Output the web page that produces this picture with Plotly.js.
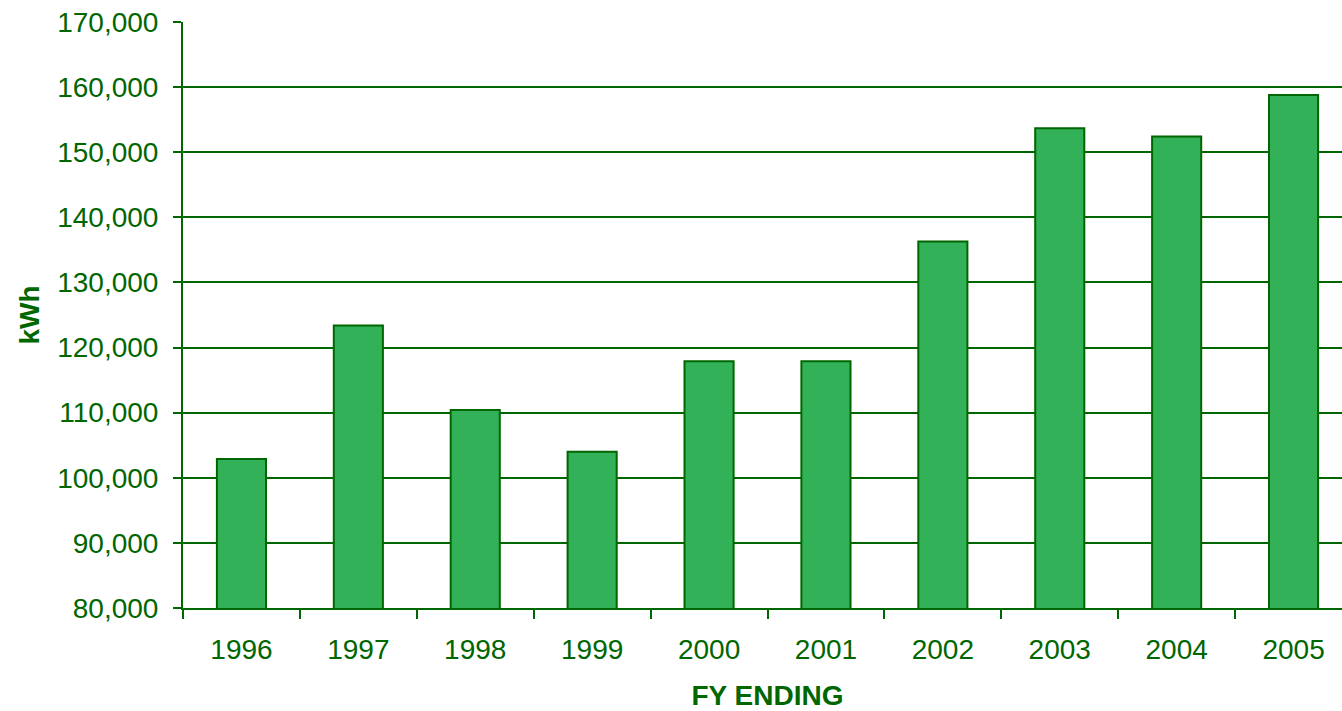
<!DOCTYPE html>
<html>
<head>
<meta charset="utf-8">
<script src="https://cdn.plot.ly/plotly-3.0.1.min.js"></script>
<style>
html,body{margin:0;padding:0;background:#fff;overflow:hidden;}
#chart{width:1352px;height:711px;}
</style>
</head>
<body>
<div id="chart"></div>
<script>
const years = ['1996','1997','1998','1999','2000','2001','2002','2003','2004','2005'];
const kwh = [102900, 123400, 110400, 104000, 117900, 117900, 136300, 153700, 152400, 158800];
const yTicks = [80000, 90000, 100000, 110000, 120000, 130000, 140000, 150000, 160000, 170000];

const dark = '#006600';
const trace = {
  type: 'bar',
  x: years,
  y: kwh,
  marker: {color: '#33B159', line: {color: dark, width: 2}},
  hoverinfo: 'x+y'
};

const layout = {
  width: 1352,
  height: 711,
  margin: {l: 183, r: 0, t: 22, b: 103},
  paper_bgcolor: '#ffffff',
  plot_bgcolor: '#ffffff',
  bargap: 0.58,
  showlegend: false,
  font: {family: 'Liberation Sans, Arial, sans-serif', color: dark, size: 28},
  xaxis: {
    type: 'category',
    showline: true, linecolor: dark, linewidth: 2,
    ticks: 'outside', ticklen: 9, tickwidth: 2, tickcolor: dark,
    tickson: 'boundaries',
    showgrid: false,
    ticklabelstandoff: 15,
    tickfont: {size: 28, color: dark},
    title: {text: '<b>FY ENDING</b>', font: {size: 28, color: dark}, standoff: 27}
  },
  yaxis: {
    range: [80000, 170000],
    tickvals: yTicks,
    ticktext: yTicks.map(v => v.toLocaleString('en-US')),
    showline: true, linecolor: dark, linewidth: 2,
    ticks: 'outside', ticklen: 8, tickwidth: 2, tickcolor: dark,
    showgrid: true, gridcolor: dark, gridwidth: 2,
    zeroline: false,
    ticklabelstandoff: 9,
    tickfont: {size: 28, color: dark},
    title: {text: '<b>kWh</b>', font: {size: 28, color: dark}, standoff: 9}
  }
};

Plotly.newPlot('chart', [trace], layout, {displayModeBar: false, staticPlot: true});
</script>
</body>
</html>
